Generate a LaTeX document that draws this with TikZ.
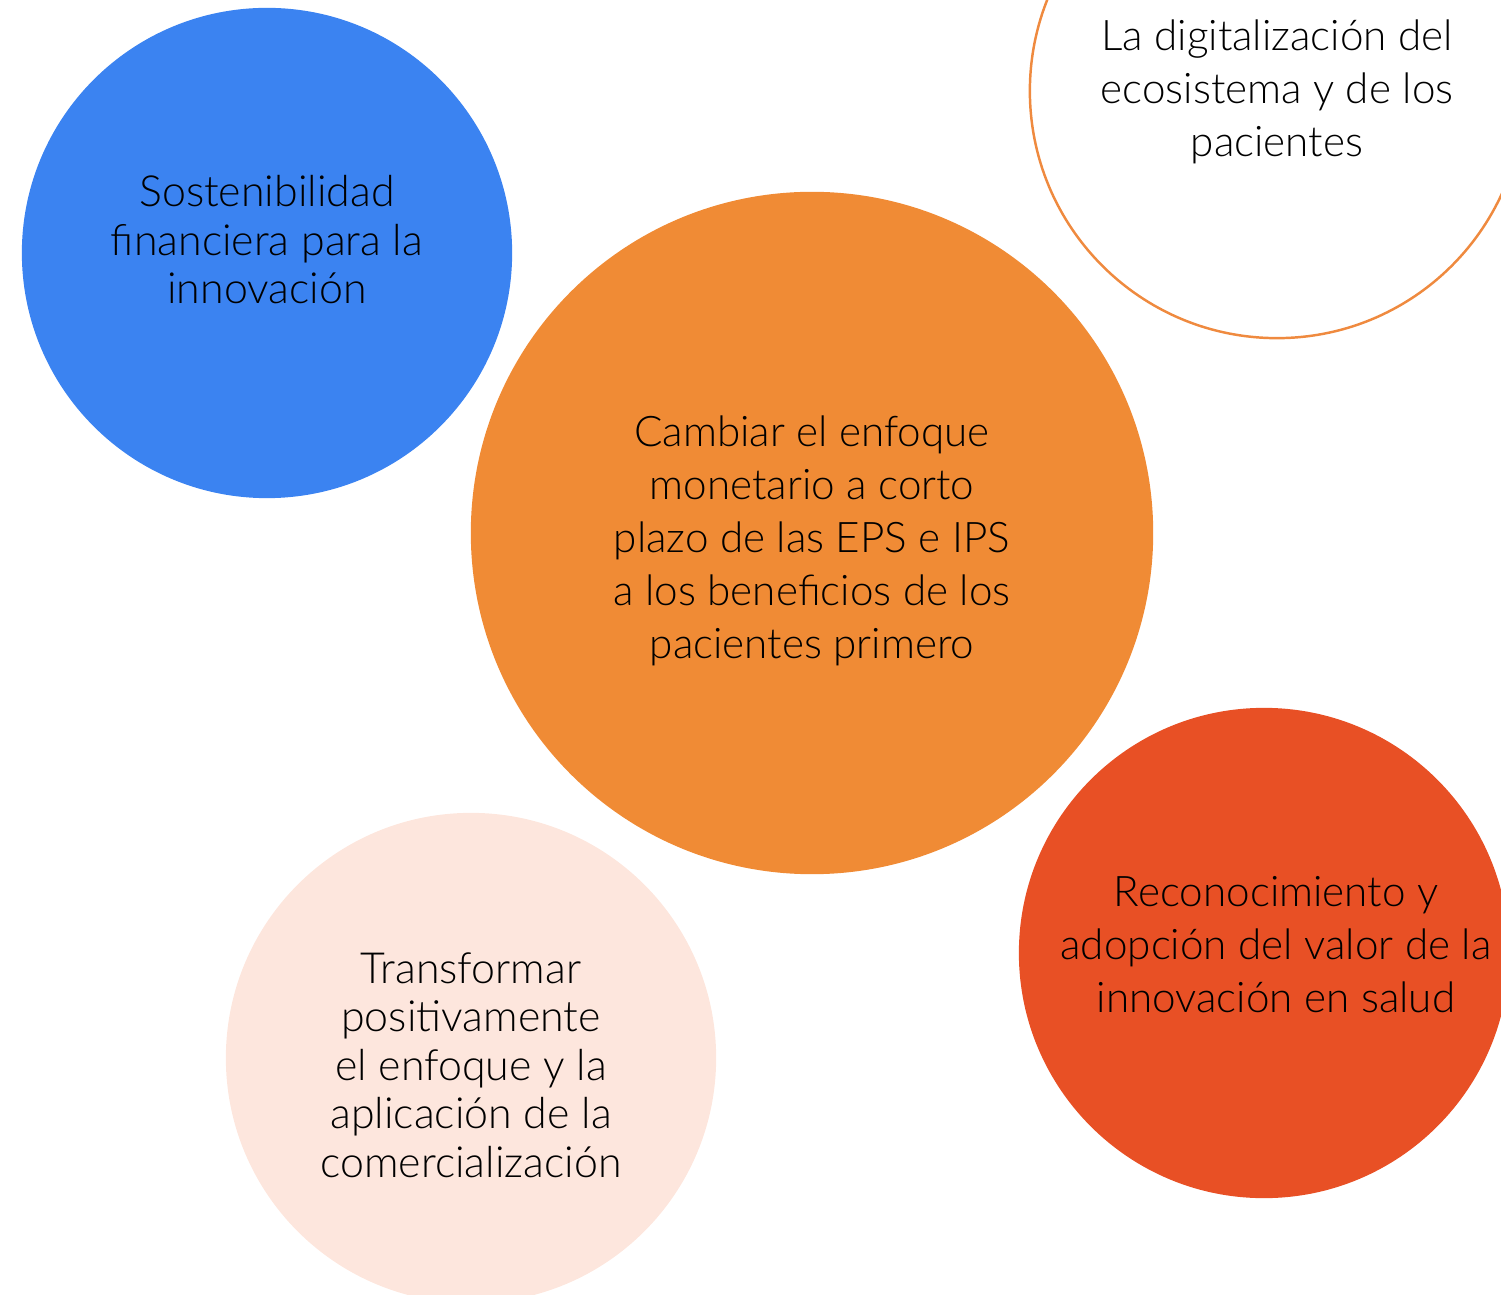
\documentclass[tikz,border=0pt]{standalone}
\usepackage{fontspec}
\setmainfont{Lato Light}
\definecolor{azul}{HTML}{3B83F1}
\definecolor{naranja}{HTML}{F08B35}
\definecolor{rojo}{HTML}{E85025}
\definecolor{durazno}{HTML}{FDE6DD}
\definecolor{borde}{HTML}{EF8A3F}
\begin{document}
\begin{tikzpicture}[x=0.01cm,y=-0.01cm,
        txt/.style={align=center, text=black, font=\fontsize{12}{15.1}\selectfont},
        txtsm/.style={align=center, text=black, font=\fontsize{12.2}{13.8}\selectfont}]
        \useasboundingbox (0,0) rectangle (1501,1295);
        \clip (0,0) rectangle (1501,1295);
        % circulos
        \fill[azul] (267,253) circle (2.45cm);
        \draw[borde, line width=0.7pt] (1277,91) circle (2.47cm);
        \fill[naranja] (812,533) circle (3.41cm);
        \fill[rojo] (1264,953) circle (2.45cm);
        \fill[durazno] (471,1058) circle (2.45cm);
        % textos
        \node[txtsm] (sost) at (267,240) {Sostenibilidad\\financiera para la\\innovación};
        \node[txt] (digit) at (1277,92) {La digitalización del\\ecosistema y de los\\pacientes};
        \node[txt] (cambiar) at (812,541) {Cambiar el enfoque\\monetario a corto\\plazo de las EPS e IPS\\a los beneficios de los\\pacientes primero};
        \node[txt] (recon) at (1276,945) {Reconocimiento y\\adopción del valor de la\\innovación en salud};
        \node[txtsm] (transf) at (471,1065) {Transformar\\positivamente\\el enfoque y la\\aplicación de la\\comercialización};
\end{tikzpicture}
\end{document}
